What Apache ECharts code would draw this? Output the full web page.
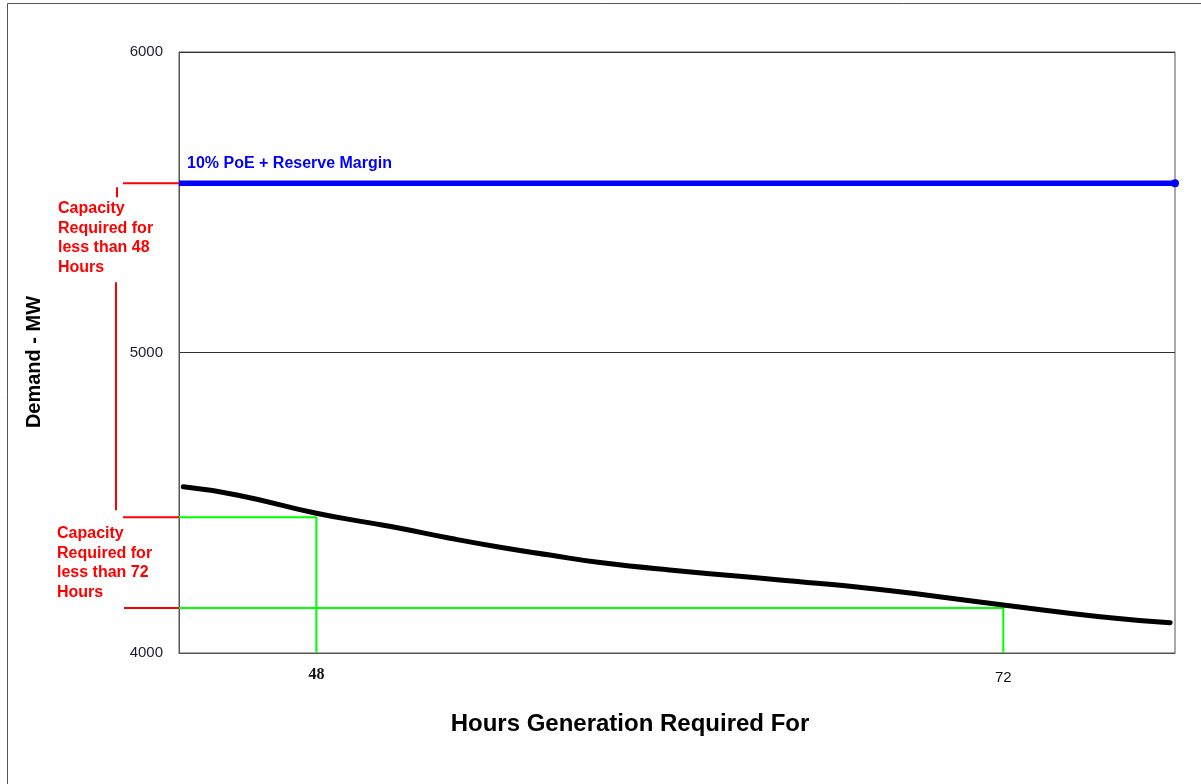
<!DOCTYPE html>
<html>
<head>
<meta charset="utf-8">
<script src="https://cdn.jsdelivr.net/npm/echarts@6/dist/echarts.min.js"></script>
<style>
  html, body { margin: 0; padding: 0; background: #fff; }
  #chart { width: 1201px; height: 784px; }
</style>
</head>
<body>
<div id="chart"></div>
<script>
// Demand duration curve (hours of generation required vs demand in MW)
const hours  = [43.35, 45.22, 48, 49.87, 50.92, 52.67, 54.42, 56.16, 57.91, 60.71, 64.2, 67.69, 72, 75.38, 77.83];
const demand = [4553, 4526, 4465, 4433, 4415, 4382, 4352, 4326, 4301, 4273, 4243, 4211, 4160, 4121, 4101];

// Reference levels
const reserveMargin = 5563;   // 10% PoE + Reserve Margin
const capacity48 = 4452;      // capacity level read at 48 hours
const capacity72 = 4150;      // capacity level read at 72 hours

// Axes
const hourRange = [43.2, 78];
const hourTicks = [48, 72];
const demandRange = [4000, 6000];
const demandStep = 1000;

const reserveLabel = '10% PoE + Reserve Margin';
const note48 = 'Capacity\nRequired for\nless than 48\nHours';
const note72 = 'Capacity\nRequired for\nless than 72\nHours';
const yTitle = 'Demand - MW';
const xTitle = 'Hours Generation Required For';

const SANS = 'Arial, "Liberation Sans", sans-serif';
const SERIF = '"Times New Roman", "Liberation Serif", serif';
const RED = '#ff0000';
const GREEN = '#00ff00';

const chart = echarts.init(document.getElementById('chart'), null, { renderer: 'canvas' });

const curve = hours.map((h, i) => [h, demand[i]]);
const reserveLine = [
  [hourRange[0], reserveMargin],
  { value: [hourRange[1], reserveMargin], symbol: 'circle', symbolSize: 8 }
];
const guide48 = [[hourRange[0], capacity48], [hourTicks[0], capacity48], [hourTicks[0], demandRange[0]]];
const guide72 = [[hourRange[0], capacity72], [hourTicks[1], capacity72], [hourTicks[1], demandRange[0]]];

chart.setOption({
  animation: false,
  backgroundColor: '#ffffff',
  grid: {
    left: 179, right: 26, top: 52, bottom: 131,
    show: true, borderColor: '#555555', borderWidth: 1, backgroundColor: 'transparent'
  },
  xAxis: {
    type: 'value',
    min: hourRange[0], max: hourRange[1],
    axisLine: { show: true, lineStyle: { color: '#555555', width: 1 } },
    axisTick: { show: false },
    splitLine: { show: false },
    axisLabel: {
      customValues: hourTicks,
      margin: 14,
      formatter: v => (v === hourTicks[0] ? '{a|' + v + '}' : '{b|' + v + '}'),
      rich: {
        a: { fontFamily: SERIF, fontWeight: 'bold', fontSize: 16, color: '#111' },
        b: { fontFamily: SANS, fontSize: 15, color: '#111', padding: [3, 0, 0, 0] }
      }
    }
  },
  yAxis: {
    type: 'value',
    min: demandRange[0], max: demandRange[1], interval: demandStep,
    axisLine: { show: true, lineStyle: { color: '#555555', width: 1 } },
    axisTick: { show: false },
    splitLine: { show: true, lineStyle: { color: '#333333', width: 1 } },
    axisLabel: { margin: 16, fontFamily: SANS, fontSize: 15, color: '#1c1c30', formatter: v => String(v) }
  },
  series: [
    {
      type: 'line', data: guide48, showSymbol: false, symbol: 'none',
      lineStyle: { color: GREEN, width: 2 }, z: 2
    },
    {
      type: 'line', data: guide72, showSymbol: false, symbol: 'none',
      lineStyle: { color: GREEN, width: 2 }, z: 2
    },
    {
      type: 'line', data: curve, smooth: 0.5, showSymbol: false, symbol: 'none',
      lineStyle: { color: '#000000', width: 5, cap: 'round' }, z: 3
    },
    {
      type: 'line', data: reserveLine, symbol: 'none',
      itemStyle: { color: '#0000ff' },
      lineStyle: { color: '#0000ff', width: 5.5 }, z: 4
    }
  ]
});

// Annotations positioned from the axes' own scales
function px(x, y) { return chart.convertToPixel({ gridIndex: 0 }, [x, y]); }

const pRM = px(hourRange[0], reserveMargin);
const p48 = px(hourRange[0], capacity48);
const p72 = px(hourRange[0], capacity72);
const gx = pRM[0];

function redLine(x1, y1, x2, y2) {
  return { type: 'line', shape: { x1, y1, x2, y2 }, style: { stroke: RED, lineWidth: 2 }, z: 10 };
}
function redNote(text, x, yTop) {
  return {
    type: 'text', x, y: yTop, z: 10,
    style: { text, fill: RED, font: 'bold 16px ' + SANS, lineHeight: 19.5, textAlign: 'left', textVerticalAlign: 'top' }
  };
}

chart.setOption({
  graphic: [
    // outer frame
    { type: 'rect', shape: { x: 7.5, y: 3.5, width: 1300, height: 900 }, style: { fill: 'none', stroke: '#555555', lineWidth: 1 }, z: 0 },
    // reserve margin caption
    {
      type: 'text', x: gx + 8, y: pRM[1] - 20, z: 10,
      style: { text: reserveLabel, fill: '#0000ff', font: 'bold 16px ' + SANS, textAlign: 'left', textVerticalAlign: 'middle' }
    },
    // capacity brackets on the left
    redLine(gx - 56, pRM[1], gx, pRM[1]),
    redLine(gx - 62, pRM[1] + 4, gx - 62, pRM[1] + 14),
    redNote(note48, gx - 121, pRM[1] + 16),
    redLine(gx - 63, pRM[1] + 99, gx - 63, p48[1] - 7),
    redLine(gx - 56, p48[1], gx, p48[1]),
    redNote(note72, gx - 122, p48[1] + 7),
    redLine(gx - 55, p72[1], gx, p72[1]),
    // axis titles
    {
      type: 'text', x: 34, y: 362, rotation: Math.PI / 2, z: 10,
      style: { text: yTitle, fill: '#000', font: 'bold 20px ' + SANS, textAlign: 'center', textVerticalAlign: 'middle' }
    },
    {
      type: 'text', x: 630, y: 724, z: 10,
      style: { text: xTitle, fill: '#000', font: 'bold 24px ' + SANS, textAlign: 'center', textVerticalAlign: 'middle' }
    }
  ]
});
</script>
</body>
</html>
